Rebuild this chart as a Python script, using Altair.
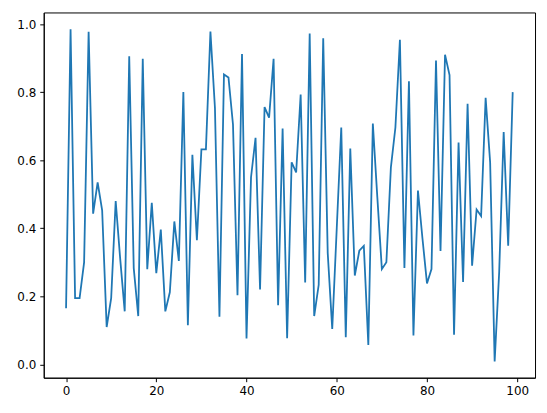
import altair as alt
import pandas as pd

x_values = list(range(100))
y_values = [
    0.165, 0.985, 0.195, 0.195, 0.300, 0.977, 0.443, 0.535, 0.453, 0.110,
    0.195, 0.480, 0.310, 0.156, 0.905, 0.283, 0.142, 0.898, 0.280, 0.475,
    0.268, 0.396, 0.156, 0.212, 0.420, 0.304, 0.800, 0.115, 0.616, 0.365,
    0.632, 0.632, 0.978, 0.754, 0.140, 0.852, 0.843, 0.705, 0.203, 0.912,
    0.076, 0.550, 0.666, 0.220, 0.756, 0.725, 0.898, 0.174, 0.693, 0.077,
    0.594, 0.564, 0.793, 0.241, 0.972, 0.142, 0.234, 0.958, 0.327, 0.104,
    0.400, 0.696, 0.080, 0.634, 0.261, 0.334, 0.348, 0.057, 0.708, 0.490,
    0.280, 0.300, 0.579, 0.696, 0.954, 0.283, 0.832, 0.085, 0.511, 0.370,
    0.238, 0.280, 0.893, 0.333, 0.910, 0.850, 0.087, 0.652, 0.242, 0.766,
    0.290, 0.455, 0.436, 0.783, 0.594, 0.009, 0.270, 0.683, 0.349, 0.800,
]
x_ticks = [0, 20, 40, 60, 80, 100]
y_ticks = [0.0, 0.2, 0.4, 0.6, 0.8, 1.0]

df = pd.DataFrame({"x": x_values, "y": y_values})

axis_common = dict(
    grid=False,
    domainColor="black",
    domainWidth=1,
    tickColor="black",
    tickWidth=1,
    tickSize=4,
    labelColor="black",
    labelFont="DejaVu Sans",
    labelFontSize=12,
    labelPadding=4,
    title=None,
)

chart = (
    alt.Chart(df)
    .mark_line(color="#1f77b4", strokeWidth=1.8)
    .encode(
        x=alt.X("x:Q",
                scale=alt.Scale(domain=[-4.95, 103.95], nice=False, zero=False),
                axis=alt.Axis(values=x_ticks, format="d", **axis_common)),
        y=alt.Y("y:Q",
                scale=alt.Scale(domain=[-0.039, 1.034], nice=False, zero=False),
                axis=alt.Axis(values=y_ticks, format=".1f", **axis_common)),
    )
    .properties(
        width=495,
        height=368,
        background="white",
        autosize=alt.AutoSizeParams(type="none"),
        padding={"left": 36, "top": 3, "right": 4, "bottom": 26},
    )
    .configure_view(stroke="black", strokeWidth=1)
)

chart.save("out.html", embed_options={"renderer": "svg", "actions": False})
